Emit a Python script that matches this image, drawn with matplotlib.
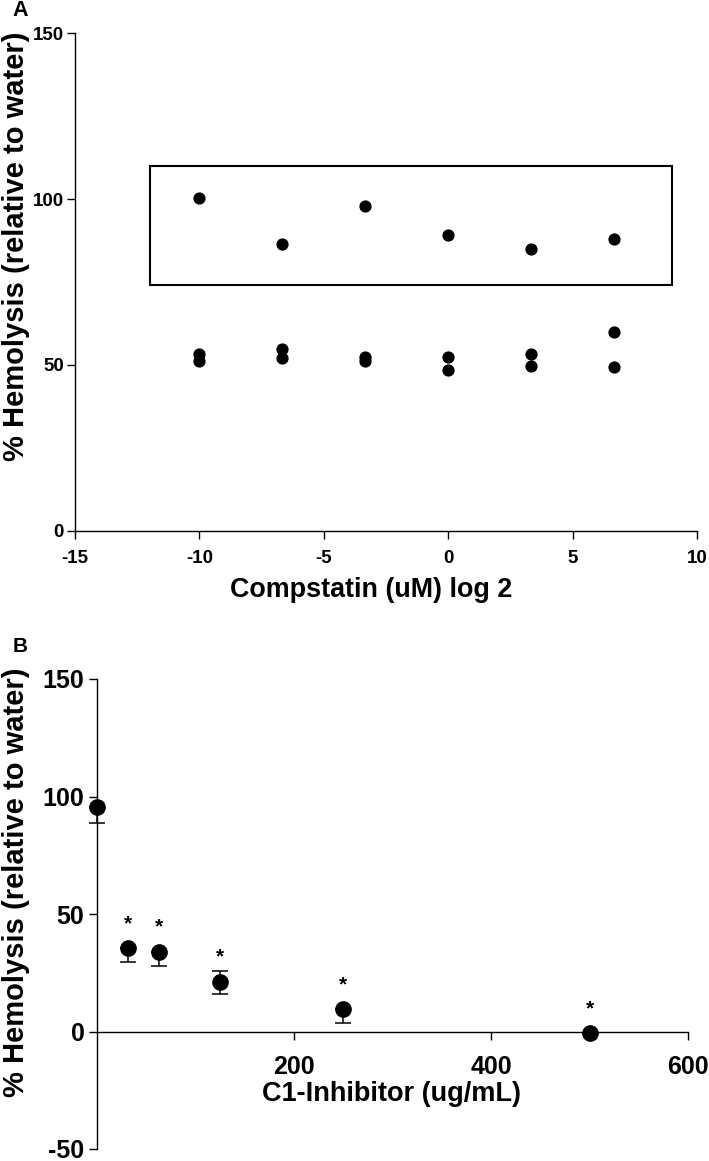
import matplotlib
matplotlib.use('Agg')
import matplotlib.pyplot as plt
from matplotlib.patches import Rectangle

plt.rcParams['axes.unicode_minus'] = False
plt.rcParams['font.family'] = ['Liberation Sans', 'DejaVu Sans']
plt.rcParams['font.weight'] = 'bold'

# panel A: compstatin, log2 concentration
comp_x = [-10, -6.67, -3.33, 0, 3.33, 6.67]
comp_high = [100.3, 86.4, 97.9, 89.2, 85.0, 88.0]
comp_low1 = [53.3, 54.8, 52.4, 52.5, 53.3, 60.0]
comp_low2 = [51.2, 52.0, 51.3, 48.5, 49.8, 49.4]
box_x = [-12, 9]
box_y = [74, 110]

# panel B: C1-inhibitor
c1_x = [0, 31.25, 62.5, 125, 250, 500]
c1_y = [95.5, 35.4, 34.0, 21.2, 9.5, -0.8]
c1_err_lo = [6.8, 5.8, 6.1, 5.4, 5.7, 0]
c1_err_hi = [0, 0, 0, 4.7, 0, 0]
c1_star = [False, True, True, True, True, True]

W, H = 709, 1161
fig = plt.figure(figsize=(W / 100, H / 100), dpi=100)

# ---- A ----
ax = fig.add_axes([75 / W, 1 - 531 / H, 622 / W, 498 / H])
for ys in (comp_high, comp_low1, comp_low2):
    ax.plot(comp_x, ys, 'o', color='black', ms=7.8, clip_on=False)
ax.add_patch(Rectangle((box_x[0], box_y[0]), box_x[1] - box_x[0], box_y[1] - box_y[0],
                       fill=False, lw=1.5, ec='black'))
ax.set_xlim(-15, 10)
ax.set_ylim(0, 150)
ax.set_xticks([-15, -10, -5, 0, 5, 10])
ax.set_yticks([0, 50, 100, 150])
for s in ['top', 'right']:
    ax.spines[s].set_visible(False)
for s in ['left', 'bottom']:
    ax.spines[s].set_linewidth(1.0)
ax.tick_params(axis='both', direction='out', length=6, width=1.0, labelsize=13.5)
ax.tick_params(axis='x', pad=8)
ax.tick_params(axis='y', pad=2)
fig.text(371 / W, 1 - 590 / H, 'Compstatin (uM) log 2', fontsize=19.4, fontweight='bold',
         ha='center', va='center')
fig.text(16 / W, 1 - 246 / H, '% Hemolysis (relative to water)', fontsize=21, fontweight='bold',
         rotation=90, ha='center', va='center')
fig.text(20 / W, 1 - 11 / H, 'A', fontweight='bold', fontsize=15.5, va='center', ha='center')

# ---- B ----
bx = fig.add_axes([97 / W, 1 - 1149 / H, 591 / W, 470 / H])
bx.errorbar(c1_x, c1_y, yerr=[c1_err_lo, c1_err_hi], fmt='o', color='black', ms=11,
            ecolor='black', elinewidth=1.1, capsize=5.8, capthick=1.1, clip_on=False)
for xi, yi, st in zip(c1_x, c1_y, c1_star):
    if st:
        bx.annotate('*', (xi, yi), xytext=(0, 11), textcoords='offset points', ha='center',
                    va='bottom', fontweight='bold', fontsize=15)
bx.set_xlim(0, 600)
bx.set_ylim(-50, 150)
bx.set_xticks([200, 400, 600])
bx.set_yticks([-50, 0, 50, 100, 150])
bx.spines['bottom'].set_position(('data', 0))
for s in ['top', 'right']:
    bx.spines[s].set_visible(False)
for s in ['left', 'bottom']:
    bx.spines[s].set_linewidth(1.0)
bx.tick_params(axis='both', direction='out', length=6, width=1.0, labelsize=18)
bx.tick_params(axis='x', pad=11)
bx.tick_params(axis='y', pad=3)
fig.text(392 / W, 1 - 1094 / H, 'C1-Inhibitor (ug/mL)', fontsize=19.5, fontweight='bold',
         ha='center', va='center')
fig.text(16 / W, 1 - 882 / H, '% Hemolysis (relative to water)', fontsize=21, fontweight='bold',
         rotation=90, ha='center', va='center')
fig.text(20 / W, 1 - 646 / H, 'B', fontweight='bold', fontsize=15, va='center', ha='center')

fig.savefig('out.png', dpi=100)
